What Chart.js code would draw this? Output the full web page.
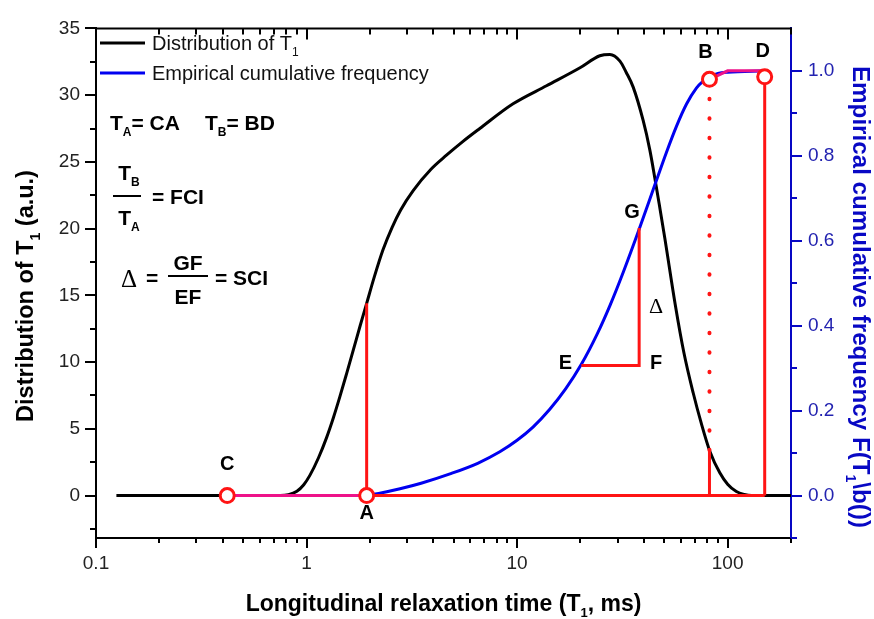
<!DOCTYPE html>
<html>
<head>
<meta charset="utf-8">
<script src="https://cdn.jsdelivr.net/npm/chart.js@4.4.1/dist/chart.umd.min.js"></script>
<style>
  html, body { margin: 0; padding: 0; background: #fff; }
  #wrap { width: 874px; height: 619px; }
</style>
</head>
<body>
<div id="wrap"><canvas id="grafico" width="874" height="619"></canvas></div>
<script>
// distribuzione T1 (asse sinistro, a.u.)
var distT1 = [0.125, 0.5, 0.75, 0.82, 0.9, 0.97, 1.037, 1.14, 1.245, 1.34, 1.44, 1.55, 1.667, 1.8, 1.93, 2.1, 2.31, 2.55, 2.8, 3.21, 3.9, 4.62, 5.5, 6.65, 9.57, 13.8, 19.9, 24.7, 27.6, 30.8, 33, 35.6, 39.7, 42.7, 45.1, 47.6, 50.3, 56.4, 62, 68.6, 75, 82.4, 91.8, 100, 110, 120, 130, 200];
var distVal = [0, 0, 0, 0.06, 0.32, 0.81, 1.51, 2.83, 4.34, 5.81, 7.41, 9.14, 10.89, 12.76, 14.4, 16.4, 18.43, 20.1, 21.4, 22.85, 24.45, 25.5, 26.5, 27.5, 29.35, 30.7, 32.05, 32.95, 33.05, 32.55, 31.7, 30.6, 28.1, 25.9, 23.8, 21.6, 19.3, 14.3, 10.7, 7.7, 5.4, 3.3, 1.7, 0.85, 0.3, 0.08, 0, 0];

// frequenza cumulativa (asse destro)
var cumT1 = [1.93, 2.2, 2.78, 3.5, 4.8, 6.5, 8.28, 10, 11.9, 14.3, 17, 20.2, 24, 27.7, 32, 38, 45.3, 51.2, 57.2, 63.8, 71.2, 76.5, 82, 90, 100, 150];
var cumVal = [0, 0.005, 0.016, 0.029, 0.051, 0.076, 0.103, 0.130, 0.161, 0.203, 0.251, 0.309, 0.380, 0.449, 0.527, 0.627, 0.734, 0.808, 0.870, 0.922, 0.960, 0.976, 0.986, 0.994, 0.997, 1.0];

// punti notevoli
var puntoC = {x: 0.42, y: 0};
var puntoA = {x: 1.93, y: 0};
var puntoB = {x: 82, y: 0.98};
var puntoD = {x: 150, y: 0.986};
var puntoE = {x: 20.2, y: 0.306};
var puntoF = {x: 38, y: 0.306};
var puntoG = {x: 38, y: 0.63};
var altezzaA = 14.4;   // distribuzione in A
var altezzaB = 3.3;    // distribuzione in B

// tacche
var xMajor = [0.1, 1, 10, 100];
var xMinor = [0.2, 0.3, 0.4, 0.5, 0.6, 0.7, 0.8, 0.9, 2, 3, 4, 5, 6, 7, 8, 9, 20, 30, 40, 50, 60, 70, 80, 90, 200];
var yMajor = [0, 5, 10, 15, 20, 25, 30, 35];
var yMinor = [-2.5, 2.5, 7.5, 12.5, 17.5, 22.5, 27.5, 32.5];
var y1Major = [0, 0.2, 0.4, 0.6, 0.8, 1.0];
var y1Minor = [-0.1, 0.1, 0.3, 0.5, 0.7, 0.9];

var yMax = 35, y1Max = 1.1;
var yMin = -yMax / 11, y1Min = -0.1;

var FONT = '"Liberation Sans", Arial, Helvetica, sans-serif';
var SERIF = '"Liberation Serif", "Times New Roman", serif';
var nero = '#000000', blu = '#0000f0', rosso = '#ff1414', magenta = '#ee1289';
var bluAsse = '#0808c4', bluTesto = '#2323b0';

function coppie(xs, ys) {
    var out = [];
    for (var i = 0; i < xs.length; i++) out.push({x: xs[i], y: ys[i]});
    return out;
}
function aSinistra(v) { return v * yMax / y1Max; }

// testo con pedici: parti = [[testo, pedice?], ...]
function scriviRicco(ctx, parti, x, y, size, bold, align, fam) {
    var b = bold ? 'bold ' : '';
    fam = fam || FONT;
    var fn = b + size + 'px ' + fam;
    var fs = b + Math.round(size * 0.58) + 'px ' + fam;
    var w = 0;
    parti.forEach(function (p) { ctx.font = p[1] ? fs : fn; w += ctx.measureText(p[0]).width; });
    var x0 = align === 'center' ? x - w / 2 : (align === 'right' ? x - w : x);
    ctx.textAlign = 'left';
    ctx.textBaseline = 'alphabetic';
    parti.forEach(function (p) {
        ctx.font = p[1] ? fs : fn;
        ctx.fillText(p[0], x0, y + (p[1] ? size * 0.28 : 0));
        x0 += ctx.measureText(p[0]).width;
    });
    return w;
}

var lettere = [
    {t: 'C', p: puntoC, dx: 0, dy: -31},
    {t: 'A', p: puntoA, dx: 0, dy: 18},
    {t: 'B', p: puntoB, dx: -4, dy: -27},
    {t: 'D', p: puntoD, dx: -2, dy: -25},
    {t: 'E', p: puntoE, dx: -16, dy: -2},
    {t: 'F', p: puntoF, dx: 17, dy: -2},
    {t: 'G', p: puntoG, dx: -7, dy: -16}
];

var tacchePlugin = {
    id: 'tacche',
    afterDraw: function (chart) {
        var ctx = chart.ctx, a = chart.chartArea;
        var sx = chart.scales.x, sy = chart.scales.y, sy1 = chart.scales.y1;
        ctx.save();
        ctx.lineWidth = 2;
        ctx.strokeStyle = nero;
        ctx.beginPath();
        ctx.moveTo(a.left - 1, a.top); ctx.lineTo(a.right + 1, a.top);
        function vert(vals, len) {
            vals.forEach(function (v) {
                var px = Math.round(sx.getPixelForValue(v));
                ctx.moveTo(px, a.bottom); ctx.lineTo(px, a.bottom + len);
                ctx.moveTo(px, a.top); ctx.lineTo(px, a.top + len + 1);
            });
        }
        vert(xMajor, 10);
        vert(xMinor, 5);
        yMajor.forEach(function (v) { var py = Math.round(sy.getPixelForValue(v)); ctx.moveTo(a.left, py); ctx.lineTo(a.left - 11, py); });
        yMinor.forEach(function (v) { var py = Math.round(sy.getPixelForValue(v)); ctx.moveTo(a.left, py); ctx.lineTo(a.left - 6, py); });
        ctx.stroke();
        ctx.strokeStyle = bluAsse;
        ctx.beginPath();
        y1Major.forEach(function (v) { var py = Math.round(sy1.getPixelForValue(v)); ctx.moveTo(a.right, py); ctx.lineTo(a.right + 11, py); });
        y1Minor.forEach(function (v) { var py = Math.round(sy1.getPixelForValue(v)); ctx.moveTo(a.right, py); ctx.lineTo(a.right + 6, py); });
        ctx.stroke();

        // lettere dei punti
        ctx.fillStyle = nero;
        ctx.font = 'bold 20px ' + FONT;
        ctx.textAlign = 'center';
        ctx.textBaseline = 'middle';
        lettere.forEach(function (l) {
            ctx.fillText(l.t, sx.getPixelForValue(l.p.x) + l.dx, sy1.getPixelForValue(l.p.y) + l.dy);
        });
        // delta tra F e G
        ctx.font = '22px ' + SERIF;
        ctx.fillText('\u0394', sx.getPixelForValue(puntoF.x) + 17, sy1.getPixelForValue((puntoF.y + puntoG.y) / 2) + 10);

        // legenda
        var ds = chart.data.datasets;
        ctx.lineWidth = 3;
        [[ds[0], 43], [ds[1], 73]].forEach(function (r) {
            ctx.strokeStyle = r[0].borderColor;
            ctx.beginPath(); ctx.moveTo(a.left + 4, r[1]); ctx.lineTo(a.left + 49, r[1]); ctx.stroke();
        });
        ctx.fillStyle = '#111';
        scriviRicco(ctx, [['Distribution of T'], ['1', 1]], a.left + 56, 50, 20, false, 'left');
        scriviRicco(ctx, [['Empirical cumulative frequency']], a.left + 56, 80, 20, false, 'left');

        // formule
        ctx.fillStyle = nero;
        scriviRicco(ctx, [['T'], ['A', 1], ['= CA']], 110, 130, 21, true, 'left');
        scriviRicco(ctx, [['T'], ['B', 1], ['= BD']], 205, 130, 21, true, 'left');
        scriviRicco(ctx, [['T'], ['B', 1]], 129, 180, 21, true, 'center');
        ctx.fillRect(113, 195, 28, 2);
        scriviRicco(ctx, [['T'], ['A', 1]], 129, 225, 21, true, 'center');
        scriviRicco(ctx, [['= FCI']], 152, 204, 21, true, 'left');
        scriviRicco(ctx, [['\u0394']], 121, 287, 25, false, 'left', SERIF);
        scriviRicco(ctx, [['=']], 146, 285, 21, true, 'left');
        scriviRicco(ctx, [['GF']], 188, 270, 21, true, 'center');
        ctx.fillRect(168, 275, 40, 2);
        scriviRicco(ctx, [['EF']], 188, 304, 21, true, 'center');
        scriviRicco(ctx, [['= SCI']], 215, 285, 21, true, 'left');

        // titoli degli assi
        scriviRicco(ctx, [['Longitudinal relaxation time (T'], ['1', 1], [', ms)']], (a.left + a.right) / 2, 611, 23, true, 'center');
        ctx.save();
        ctx.translate(33, 296);
        ctx.rotate(-Math.PI / 2);
        scriviRicco(ctx, [['Distribution of T'], ['1', 1], [' (a.u.)']], 0, 0, 23.5, true, 'center');
        ctx.restore();
        ctx.save();
        ctx.fillStyle = bluAsse;
        ctx.translate(853, 297);
        ctx.rotate(Math.PI / 2);
        scriviRicco(ctx, [['Empirical cumulative frequency F(T'], ['1', 1], ['\\b())']], 0, 0, 24.2, true, 'center');
        ctx.restore();
        ctx.restore();
    }
};

function linea(data, asse, colore, extra) {
    var d = {data: data, yAxisID: asse, borderColor: colore, borderWidth: 3, pointRadius: 0, fill: false, order: 3};
    for (var k in extra) d[k] = extra[k];
    return d;
}

var ctx = document.getElementById('grafico');
var chart = new Chart(ctx, {
    type: 'line',
    data: {
        datasets: [
            linea(coppie(distT1, distVal), 'y', nero, {label: 'Distribution of T1', cubicInterpolationMode: 'monotone', order: 6}),
            linea(coppie(cumT1, cumVal), 'y1', blu, {label: 'Empirical cumulative frequency', cubicInterpolationMode: 'monotone', order: 5}),
            linea([{x: puntoA.x, y: 0}, {x: puntoA.x, y: altezzaA}], 'y', rosso),
            linea([{x: puntoA.x, y: 0}, {x: puntoD.x, y: 0}], 'y', rosso),
            linea([{x: puntoB.x, y: 0}, {x: puntoB.x, y: altezzaB}], 'y', rosso),
            linea([{x: puntoB.x, y: aSinistra(puntoB.y)}, {x: puntoB.x, y: altezzaB}], 'y', rosso,
                {borderWidth: 4, borderDash: [0.5, 19], borderCapStyle: 'round'}),
            linea([{x: puntoD.x, y: 0}, {x: puntoD.x, y: puntoD.y}], 'y1', rosso),
            linea([puntoE, puntoF, puntoG], 'y1', rosso),
            linea([puntoC, puntoA], 'y1', magenta, {order: 2}),
            linea([puntoB, {x: 100, y: 1.0}, {x: puntoD.x, y: 1.0}], 'y1', magenta, {order: 2}),
            linea([puntoC, puntoA, puntoB, puntoD], 'y1', rosso, {
                showLine: false, pointRadius: 7, pointBorderWidth: 3,
                pointBorderColor: rosso, pointBackgroundColor: '#ffffff', order: 1
            })
        ]
    },
    options: {
        responsive: false,
        animation: false,
        layout: {padding: {top: 20, left: 0, right: 0, bottom: 0}},
        plugins: {legend: {display: false}, tooltip: {enabled: false}},
        scales: {
            x: {
                type: 'logarithmic', min: 0.1, max: 200,
                grid: {display: false, drawTicks: false},
                border: {display: true, color: nero, width: 2},
                afterBuildTicks: function (s) { s.ticks = xMajor.map(function (v) { return {value: v}; }); },
                afterFit: function (s) { s.height = 81; },
                ticks: {
                    padding: 14, maxRotation: 0, autoSkip: false, color: '#222',
                    font: {family: FONT, size: 19},
                    callback: function (v) { return String(v); }
                }
            },
            y: {
                position: 'left', min: yMin, max: yMax,
                grid: {display: false, drawTicks: false},
                border: {display: true, color: nero, width: 2},
                afterBuildTicks: function (s) { s.ticks = yMajor.map(function (v) { return {value: v}; }); },
                afterFit: function (s) { s.width = 96; },
                ticks: {padding: 16, color: '#222', font: {family: FONT, size: 19}}
            },
            y1: {
                position: 'right', min: y1Min, max: y1Max,
                grid: {display: false, drawTicks: false},
                border: {display: true, color: bluAsse, width: 2},
                afterBuildTicks: function (s) { s.ticks = y1Major.map(function (v) { return {value: v}; }); },
                afterFit: function (s) { s.width = 83; },
                ticks: {
                    padding: 17, color: bluTesto, font: {family: FONT, size: 19},
                    callback: function (v) { return Number(v).toFixed(1); }
                }
            }
        }
    },
    plugins: [tacchePlugin]
});
</script>
</body>
</html>
